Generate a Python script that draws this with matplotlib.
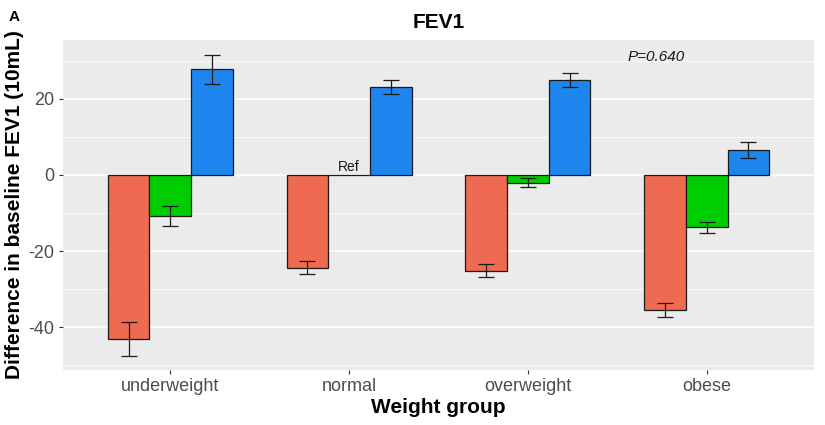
import numpy as np
import matplotlib
matplotlib.use("Agg")
import matplotlib.pyplot as plt
from matplotlib.ticker import MultipleLocator

plt.rcParams['font.family'] = ['Liberation Sans', 'DejaVu Sans']
plt.rcParams['axes.unicode_minus'] = False

groups = ['underweight', 'normal', 'overweight', 'obese']
# three series per weight group (red, green, blue)
red_vals = [-43.1, -24.4, -25.2, -35.5]
red_err = [4.5, 1.7, 1.7, 1.85]
green_vals = [-10.8, 0.0, -2.0, -13.8]
green_err = [2.6, np.nan, 1.2, 1.4]
blue_vals = [27.8, 23.2, 24.9, 6.5]
blue_err = [3.8, 1.85, 1.8, 2.1]

series = [(red_vals, red_err, '#EE6A50'),
          (green_vals, green_err, '#00CD00'),
          (blue_vals, blue_err, '#1C86EE')]

fig = plt.figure(figsize=(8.25, 4.25), dpi=100)
ax = fig.add_axes([63 / 825, 55 / 425, 751 / 825, 330 / 425])
ax.set_facecolor('#EBEBEB')
for s in ax.spines.values():
    s.set_visible(False)

x = np.arange(len(groups))
width = 0.7 / 3
for i, (vals, errs, col) in enumerate(series):
    pos = x + (i - 1) * width
    ax.bar(pos, vals, width, color=col, edgecolor='#1A1A1A', linewidth=0.9, zorder=3)
    ax.errorbar(pos, vals, yerr=errs, fmt='none', ecolor='#1A1A1A',
                elinewidth=0.9, capsize=6, capthick=0.9, zorder=4)

ax.text(1, 0.3, 'Ref', ha='center', va='bottom', fontsize=10, color='#1A1A1A', zorder=5)
ax.text(2.555, 31, 'P=0.640', ha='left', va='center', fontsize=11,
        style='italic', color='#1A1A1A')

ax.set_xlim(-0.6, 3.6)
ax.set_ylim(-51.3, 35.5)
ax.yaxis.set_major_locator(MultipleLocator(20))
ax.yaxis.set_minor_locator(MultipleLocator(10))
ax.grid(which='major', axis='y', color='white', linewidth=1.1, zorder=0)
ax.grid(which='minor', axis='y', color='white', linewidth=0.55, zorder=0)
ax.set_axisbelow(True)
ax.set_xticks(x)
ax.set_xticklabels(groups)
ax.tick_params(which='major', length=3, width=0.8, color='#333333',
               labelsize=13, labelcolor='#4D4D4D', pad=3)
ax.tick_params(which='minor', length=0)

ax.set_xlabel('Weight group', fontsize=15, fontweight='bold', labelpad=2)
ax.set_ylabel('Difference in baseline FEV1 (10mL)', fontsize=15, fontweight='bold', labelpad=3)
ax.set_title('FEV1', fontsize=15, fontweight='bold', pad=9)
fig.text(14 / 825, 1 - 17 / 425, 'A', fontsize=11, fontweight='bold', ha='center', va='center')

fig.savefig('out.png', dpi=100)
